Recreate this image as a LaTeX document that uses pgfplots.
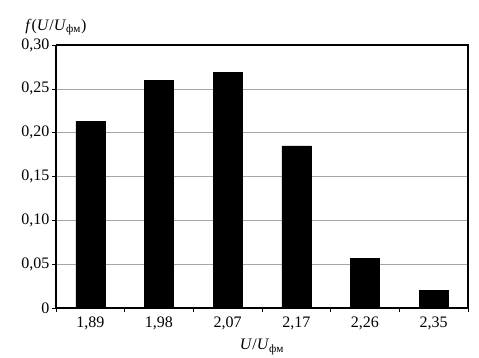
\documentclass[border=0pt]{standalone}
\usepackage{fontspec}
\setmainfont{Liberation Serif}
\usepackage{pgfplots}
\pgfplotsset{compat=1.18}
\begin{document}
\begin{tikzpicture}
\begin{axis}[
  scale only axis,
  width=412pt, height=263pt,
  xmin=-0.5, xmax=5.5,
  ymin=0, ymax=0.30,
  xtick={0,1,2,3,4,5},
  xticklabels={{1,89},{1,98},{2,07},{2,17},{2,26},{2,35}},
  minor xtick={-0.5,0.5,1.5,2.5,3.5,4.5,5.5},
  major x tick style={draw=none},
  ytick={0,0.05,0.10,0.15,0.20,0.25,0.30},
  yticklabels={0,{0,05},{0,10},{0,15},{0,20},{0,25},{0,30}},
  tick align=outside,
  major tick length=4pt,
  minor tick length=4pt,
  tick style={black, line width=0.6pt},
  ymajorgrids,
  grid style={gray!70, line width=0.6pt},
  axis line style={black, line width=1.2pt},
  axis x line*=bottom, axis y line*=left,
  ybar, bar width=29pt,
  clip=false,
  tick label style={font=\fontsize{16}{18}\selectfont},
  xticklabel style={yshift=-1pt},
  yticklabel style={xshift=1pt},
]
\addplot[fill=black, draw=black] coordinates {(0,0.213) (1,0.260) (2,0.269) (3,0.185) (4,0.057) (5,0.0205)};
\draw[line width=1.2pt] (rel axis cs:0,1) -- (rel axis cs:1,1) -- (rel axis cs:1,0);
\node[font=\fontsize{16}{18}\selectfont, anchor=west, inner sep=0pt] at (rel axis cs:-0.075,1.068) {\textit{f}(\textit{U}/\textit{U}\textsubscript{фм})};
\node[font=\fontsize{16}{18}\selectfont] at (rel axis cs:0.5,-0.148) {\textit{U}/\textit{U}\textsubscript{фм}};
\path[use as bounding box] (rel axis cs:-0.1359,-0.186) rectangle (rel axis cs:1.0267,1.171);
\end{axis}
\end{tikzpicture}
\end{document}
